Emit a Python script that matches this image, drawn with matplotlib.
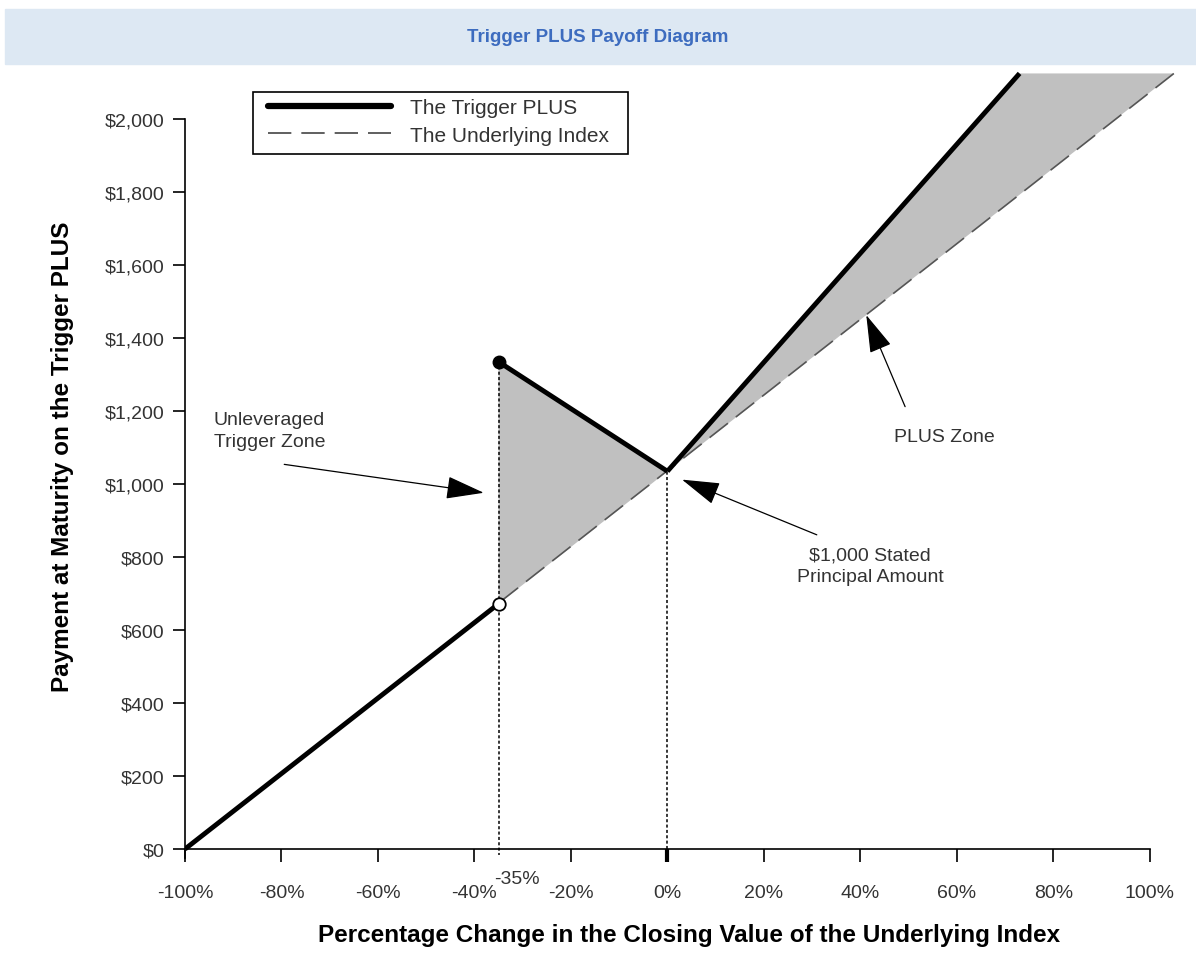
import numpy as np
import matplotlib
matplotlib.use('Agg')
import matplotlib.pyplot as plt
from matplotlib.lines import Line2D
from matplotlib.patches import Rectangle

plt.rcParams['font.family'] = ['Liberation Sans', 'DejaVu Sans']

# axis ticks
pct_ticks = [-100, -80, -60, -40, -20, 0, 20, 40, 60, 80, 100]
pct_labels = ['-100%', '-80%', '-60%', '-40%', '-20%', '0%', '20%', '40%', '60%', '80%', '100%']
pay_ticks = [0, 200, 400, 600, 800, 1000, 1200, 1400, 1600, 1800, 2000]
pay_labels = ['$0', '$200', '$400', '$600', '$800', '$1,000', '$1,200', '$1,400', '$1,600', '$1,800', '$2,000']

# payoff lines (x in %, y in $)
underlying_x = [-100, 105]
underlying_y = [0, 2125]
trigger_x_low = [-100, -35]
trigger_y_low = [0, 672]
trigger_x_mid = [-35, 0]
trigger_y_mid = [1335, 1035]
trigger_x_high = [0, 73]
trigger_y_high = [1035, 2125]

fig = plt.figure(figsize=(11.96, 9.62), dpi=100)

# title banner
fig.patches.append(Rectangle((5 / 1196, 1 - 65 / 962), 1191 / 1196, 55 / 962,
                             transform=fig.transFigure, color='#dde8f3', zorder=0))
fig.text(0.5, 1 - 37 / 962, 'Trigger PLUS Payoff Diagram', ha='center', va='center',
         fontsize=13.5, fontweight='bold', color='#3d6cbf')

ax = fig.add_axes([185 / 1196, 0.1107, 0.843, 0.829])
ax.set_xlim(-100, 109)
ax.set_ylim(-15, 2170)

# shaded zones
zone1_x = trigger_x_mid + [trigger_x_low[-1]]
zone1_y = trigger_y_mid + [trigger_y_low[-1]]
ax.fill(zone1_x, zone1_y, color='#c0c0c0', lw=0, zorder=1)
zone2_x = trigger_x_high + [underlying_x[-1]]
zone2_y = trigger_y_high + [underlying_y[-1]]
ax.fill(zone2_x, zone2_y, color='#c0c0c0', lw=0, zorder=1)

# dotted guides
ax.vlines(trigger_x_mid[0], -20, trigger_y_mid[0], colors='black', linestyles=(0, (2, 1.5)), lw=1.1, zorder=2)
ax.vlines(trigger_x_mid[1], 0, trigger_y_mid[1], colors='black', linestyles=(0, (2, 1.5)), lw=1.1, zorder=2)

# underlying index
ax.plot(underlying_x, underlying_y, color='#555555', lw=1.2, dashes=(14, 6), zorder=3)

# trigger PLUS
for xs, ys in [(trigger_x_low, trigger_y_low), (trigger_x_mid, trigger_y_mid), (trigger_x_high, trigger_y_high)]:
    ax.plot(xs, ys, color='black', lw=3.5, solid_capstyle='butt', zorder=4)
ax.plot(trigger_x_mid[0], trigger_y_mid[0], 'o', color='black', ms=9, zorder=5)
ax.plot(trigger_x_low[-1], trigger_y_low[-1], 'o', mfc='white', mec='black', mew=1.3, ms=9, zorder=5)

# spines and ticks
for s in ['top', 'right']:
    ax.spines[s].set_visible(False)
ax.spines['bottom'].set_position(('data', 0))
ax.spines['bottom'].set_bounds(-100, 100)
ax.spines['left'].set_position(('data', -100))
ax.spines['left'].set_bounds(-25, 2000)
for s in ['bottom', 'left']:
    ax.spines[s].set_linewidth(1.2)

ax.set_xticks(pct_ticks)
ax.set_xticklabels(pct_labels)
ax.set_yticks(pay_ticks)
ax.set_yticklabels(pay_labels)
ax.tick_params(axis='x', direction='out', length=9, width=1.2, pad=16, labelsize=14, labelcolor='#333333')
ax.tick_params(axis='y', direction='out', length=9, width=1.2, pad=6, labelsize=14, labelcolor='#333333')
ax.xaxis.get_major_ticks()[5].tick1line.set_markeredgewidth(3)

ax.annotate('-35%', xy=(trigger_x_low[-1], 0), xytext=(-3, -21), textcoords='offset points',
            ha='left', va='center', fontsize=14, color='#333333')

ax.set_xlabel('Percentage Change in the Closing Value of the Underlying Index',
              fontsize=17.5, fontweight='bold', labelpad=16)
ax.set_ylabel('Payment at Maturity on the Trigger PLUS', fontsize=17.5, fontweight='bold', labelpad=22)

# annotations
arrow = dict(arrowstyle='-|>,head_length=1.0,head_width=0.3', color='black', lw=0.9, mutation_scale=24)
ax.annotate('', xy=(-37.5, 975), xytext=(-80, 1055), arrowprops=arrow)
ax.text(-94, 1147, 'Unleveraged\nTrigger Zone', ha='left', va='center', fontsize=14,
        color='#333333', linespacing=1.35)
ax.annotate('', xy=(2.5, 1015), xytext=(31.5, 858), arrowprops=arrow)
ax.text(42, 776, '$1,000 Stated\nPrincipal Amount', ha='center', va='center', fontsize=14,
        color='#333333', linespacing=1.35)
ax.annotate('', xy=(41, 1470), xytext=(49.5, 1205), arrowprops=arrow)
ax.text(57.5, 1131, 'PLUS Zone', ha='center', va='center', fontsize=14, color='#333333')

# legend (frame drawn separately so its padding matches)
handles = [Line2D([], [], color='black', lw=4.5, solid_capstyle='round'),
           Line2D([], [], color='#444444', lw=1.2, dashes=(14, 6))]
leg = ax.legend(handles, ['The Trigger PLUS', 'The Underlying Index'], loc='upper left',
                bbox_to_anchor=(268 / 1196, 1 - 99 / 962), bbox_transform=fig.transFigure,
                fontsize=15, frameon=False, borderaxespad=0, borderpad=0,
                handlelength=5.9, handletextpad=0.9, labelspacing=0.42)
for t in leg.get_texts():
    t.set_color('#333333')
fig.patches.append(Rectangle((253 / 1196, 1 - 155 / 962), 375 / 1196, 62 / 962,
                             transform=fig.transFigure, fill=False, edgecolor='black', lw=1.2, zorder=5))

fig.savefig('out.png', dpi=100)
